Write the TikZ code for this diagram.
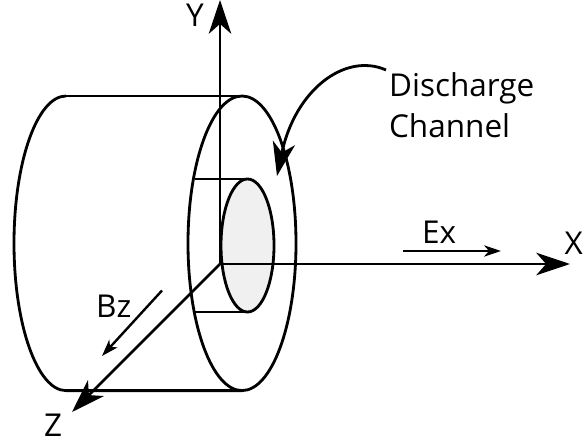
\documentclass[tikz,border=0pt]{standalone}
\usepackage{fontspec}
\setmainfont{Open Sans}
\usetikzlibrary{arrows.meta, positioning}
\tikzset{
  wall/.style={line width=2pt, black},
  axis/.style={wall, -{Stealth[length=24pt, width=16pt, inset=7pt]}},
  field/.style={line width=1.7pt, black, -{Stealth[length=12pt, width=8pt, inset=3.5pt]}},
  lbl/.style={font=\fontsize{22.4pt}{26pt}\selectfont, inner sep=2pt}
}
\begin{document}
\begin{tikzpicture}[x=0.025cm, y=-0.025cm]
  \useasboundingbox (0,0) rectangle (584,445);
  % Cylinder body
  \draw[wall] (66,96) arc[start angle=270, end angle=90, x radius=52, y radius=147.3]
    -- (242,390.6);
  \draw[wall] (66,96) -- (242,96);
  \draw[wall] (242,243.3) ellipse[x radius=54, y radius=147.3];
  % Inner core
  \draw[wall] (195,179) -- (247.5,179);
  \draw[wall] (195,312) -- (247.5,312);
  \draw[wall, fill=black!6] (247.5,245.5) ellipse[x radius=26.5, y radius=66.5];
  % Axes
  \coordinate (origin) at (220,264);
  \coordinate (yend) at (220,0);
  \coordinate (xend) at (570,264);
  \coordinate (zend) at (72,412);
  \draw[axis] (origin) -- (yend);
  \draw[axis] (origin) -- (xend);
  \draw[axis] (origin) -- (zend);
  % Labels
  \node[lbl, anchor=base] (ylbl) at (195,27) {Y};
  \node[lbl, anchor=base east] (xlbl) at (586,254) {X};
  \node[lbl, anchor=base] (zlbl) at (53,436) {Z};
  \node[lbl, anchor=base west] (discharge) at (386,97) {Discharge};
  \node[lbl, anchor=base west] (channel) at (386,138) {Channel};
  \node[lbl, anchor=base west] (exlbl) at (419,243) {Ex};
  \node[lbl, anchor=base west] (bzlbl) at (93,317) {Bz};
  % Field arrows
  \coordinate (exa) at (403,251);
  \coordinate (exb) at (501,251);
  \coordinate (bza) at (162,290.5);
  \coordinate (bzb) at (102,356);
  \draw[field] (exa) -- (exb);
  \draw[field] (bza) -- (bzb);
  % Pointer to channel
  \coordinate (chtip) at (277,176);
  \draw[axis] (discharge.north west) .. controls (345,52) and (295,90) .. (chtip);
\end{tikzpicture}
\end{document}
